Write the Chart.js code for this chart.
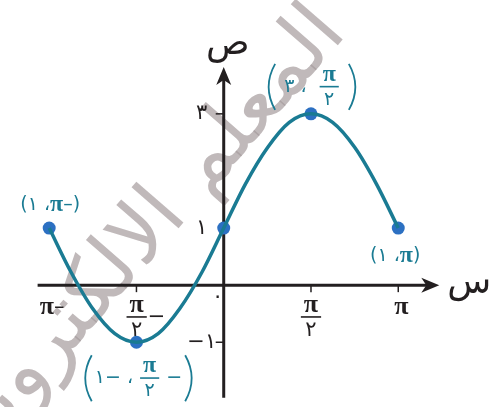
<!DOCTYPE html>
<html>
<head>
<meta charset="utf-8">
<script src="https://cdn.jsdelivr.net/npm/chart.js@4"></script>
<style>
  html, body { margin: 0; padding: 0; background: #fff; }
  #wrap { width: 498px; height: 407px; }
</style>
</head>
<body>
<div id="wrap"><canvas id="graph"></canvas></div>
<script>
// منحنى الدالة: القيم مقروءة من الرسم
const curveX = [-Math.PI, -2.75, -2.36, -1.96, -Math.PI / 2, -1.18, -0.79, -0.39, 0,
                0.39, 0.79, 1.18, Math.PI / 2, 1.96, 2.36, 2.75, Math.PI];
const curveY = [1, 0.23, -0.41, -0.85, -1, -0.85, -0.41, 0.23, 1,
                1.77, 2.41, 2.85, 3, 2.85, 2.41, 1.77, 1];

// النقاط المميزة
const markX = [-Math.PI, -Math.PI / 2, 0, Math.PI / 2, Math.PI];
const markY = [1, -1, 1, 3, 1];

// تدريج المحاور
const xTicks = [-Math.PI, -Math.PI / 2, 0, Math.PI / 2, Math.PI];
const xTickLabels = ["π–", ["π", "٢", "−"], "٠", ["π", "٢"], "π"];
const yTicks = [3, 1, -1];
const yTickLabels = ["٣", "١", "−١"];

// تسميات النقاط (مرتبة بصريا من اليسار لليمين)
const markLabels = [
    ["(١ ،π–)"],
    ["(", "١− ، ", ["π", "٢"], " −", ")"],
    null,
    ["(", " ٣ ،  ", ["π", "٢"], " ", ")"],
    ["(١ ،π)"]
];

const INK = "#231f20";
const TEAL = "#1a7b93";
const DOT = "#2c70c2";

// حدود المحاور بوحدات الرسم
const AX = { xFrom: -3.35, xTo: 3.88, yFrom: -1.97, yTo: 3.82 };

function charFont(ch, size) {
    if (ch === "π") return "bold " + size + "px 'Liberation Serif', 'DejaVu Serif'";
    return Math.round(size * 0.8) + "px 'DejaVu Sans'";
}

function strWidth(ctx, s, size) {
    let w = 0;
    for (const ch of s) { ctx.font = charFont(ch, size); w += ctx.measureText(ch).width; }
    return w;
}

function drawStr(ctx, s, x, y, size) {
    for (const ch of s) {
        ctx.font = charFont(ch, size);
        ctx.fillText(ch, x, y);
        x += ctx.measureText(ch).width;
    }
    return x;
}

function pieceWidth(ctx, p, size) {
    if (p === "(" || p === ")") return 12;
    if (Array.isArray(p)) return Math.max(strWidth(ctx, p[0], size), strWidth(ctx, p[1], size)) + 8;
    return strWidth(ctx, p, size);
}

function drawFrac(ctx, p, x, y, size, w) {
    ctx.textAlign = "center";
    const cx = x + w / 2;
    ctx.font = charFont(p[0], size);
    ctx.fillText(p[0], cx, y - 12);
    ctx.font = charFont(p[1], size);
    ctx.fillText(p[1], cx, y + 13);
    ctx.fillRect(x + 1, y - 1, w - 2, 1.6);
    ctx.textAlign = "left";
}

function drawParen(ctx, p, x, y) {
    ctx.beginPath();
    const h = 23;
    if (p === "(") {
        ctx.moveTo(x + 9, y - h);
        ctx.quadraticCurveTo(x - 4, y, x + 9, y + h);
    } else {
        ctx.moveTo(x + 3, y - h);
        ctx.quadraticCurveTo(x + 16, y, x + 3, y + h);
    }
    ctx.lineWidth = 1.8;
    ctx.stroke();
}

function drawRow(ctx, pieces, cx, cy, size) {
    const widths = pieces.map(p => pieceWidth(ctx, p, size));
    let x = cx - widths.reduce((a, b) => a + b, 0) / 2;
    ctx.textBaseline = "middle";
    ctx.textAlign = "left";
    pieces.forEach((p, i) => {
        if (p === "(" || p === ")") drawParen(ctx, p, x, cy);
        else if (Array.isArray(p)) drawFrac(ctx, p, x, cy, size, widths[i]);
        else drawStr(ctx, p, x, cy, size);
        x += widths[i];
    });
}

function arrowHead(ctx, x, y, ang) {
    ctx.save();
    ctx.translate(x, y);
    ctx.rotate(ang);
    ctx.beginPath();
    ctx.moveTo(0, 0);
    ctx.lineTo(-18, -7.5);
    ctx.lineTo(-13, 0);
    ctx.lineTo(-18, 7.5);
    ctx.closePath();
    ctx.fill();
    ctx.restore();
}

const axesPlugin = {
    id: "axesPlugin",
    beforeDatasetsDraw(chart) {
        const ctx = chart.ctx;
        const xs = chart.scales.x, ys = chart.scales.y;
        const x0 = xs.getPixelForValue(0), y0 = ys.getPixelForValue(0);

        // العلامة المائية
        ctx.save();
        ctx.translate(318, 8);
        ctx.rotate(-49 * Math.PI / 180);
        ctx.font = "82px 'DejaVu Sans'";
        ctx.fillStyle = "rgba(165, 155, 156, 0.7)";
        ctx.textAlign = "right";
        ctx.textBaseline = "middle";
        ctx.direction = "rtl";
        ctx.fillText("المعلم الالكتروني", 0, 18);
        ctx.restore();

        ctx.save();
        ctx.strokeStyle = INK;
        ctx.fillStyle = INK;
        ctx.lineWidth = 3;
        const xl = xs.getPixelForValue(AX.xFrom), xr = xs.getPixelForValue(AX.xTo);
        const yt = ys.getPixelForValue(AX.yTo), yb = ys.getPixelForValue(AX.yFrom);
        ctx.beginPath();
        ctx.moveTo(xl, y0); ctx.lineTo(xr - 10, y0);
        ctx.moveTo(x0, yb); ctx.lineTo(x0, yt + 10);
        ctx.stroke();
        arrowHead(ctx, xr, y0, 0);
        arrowHead(ctx, x0, yt, -Math.PI / 2);

        // التدريج
        ctx.lineWidth = 1.5;
        xTicks.forEach(v => {
            if (v === 0 || v === -Math.PI) return;
            const px = xs.getPixelForValue(v);
            ctx.beginPath(); ctx.moveTo(px, y0); ctx.lineTo(px, y0 + 7); ctx.stroke();
        });
        yTicks.forEach(v => {
            if (v === 1) return;
            const py = ys.getPixelForValue(v);
            ctx.beginPath(); ctx.moveTo(x0, py); ctx.lineTo(x0 - 8, py); ctx.stroke();
        });

        // تسميات التدريج
        xTicks.forEach((v, i) => {
            const px = xs.getPixelForValue(v);
            const lab = xTickLabels[i];
            if (Array.isArray(lab)) {
                drawRow(ctx, [[lab[0], lab[1]]].concat(lab[2] ? [lab[2]] : []), px + (lab[2] ? 9 : 0), y0 + 32, 26);
            } else if (v === 0) {
                drawRow(ctx, [lab], px - 6, y0 + 12, 26);
            } else {
                drawRow(ctx, [lab], px + 3, y0 + 22, 26);
            }
        });
        yTicks.forEach((v, i) => {
            const py = ys.getPixelForValue(v);
            drawRow(ctx, [yTickLabels[i]], x0 - 22, py, 26);
        });

        // أسماء المحاور
        ctx.font = "36px 'DejaVu Sans'";
        ctx.textAlign = "center";
        ctx.textBaseline = "middle";
        ctx.fillText("ص", x0 + 4, yt - 22);
        ctx.fillText("س", xr + 30, y0 - 2);
        ctx.restore();
    },
    afterDatasetsDraw(chart) {
        const ctx = chart.ctx;
        const xs = chart.scales.x, ys = chart.scales.y;
        const offsets = [[1, -23], [2, 36], null, [1, -27], [-3, 28]];
        ctx.save();
        ctx.fillStyle = TEAL;
        ctx.strokeStyle = TEAL;
        markLabels.forEach((lab, i) => {
            if (!lab) return;
            const px = xs.getPixelForValue(markX[i]) + offsets[i][0];
            const py = ys.getPixelForValue(markY[i]) + offsets[i][1];
            drawRow(ctx, lab, px, py, 24);
        });
        ctx.restore();
    }
};

const config = {
    type: "line",
    data: {
        datasets: [
            {
                data: curveX.map((x, i) => ({ x: x, y: curveY[i] })),
                borderColor: TEAL,
                borderWidth: 3.5,
                pointRadius: 0,
                tension: 0.4,
                cubicInterpolationMode: "monotone",
                clip: false
            },
            {
                data: markX.map((x, i) => ({ x: x, y: markY[i] })),
                showLine: false,
                pointRadius: 6.5,
                pointBackgroundColor: DOT,
                pointBorderWidth: 0,
                clip: false
            }
        ]
    },
    options: {
        responsive: true,
        maintainAspectRatio: false,
        animation: false,
        layout: { padding: 0 },
        plugins: { legend: { display: false }, tooltip: { enabled: false } },
        scales: {
            x: { type: "linear", min: -3.91, max: 4.82, display: false },
            y: { type: "linear", min: -2.02, max: 4.88, display: false }
        }
    },
    plugins: [axesPlugin]
};

new Chart(document.getElementById("graph"), config);
</script>
</body>
</html>
